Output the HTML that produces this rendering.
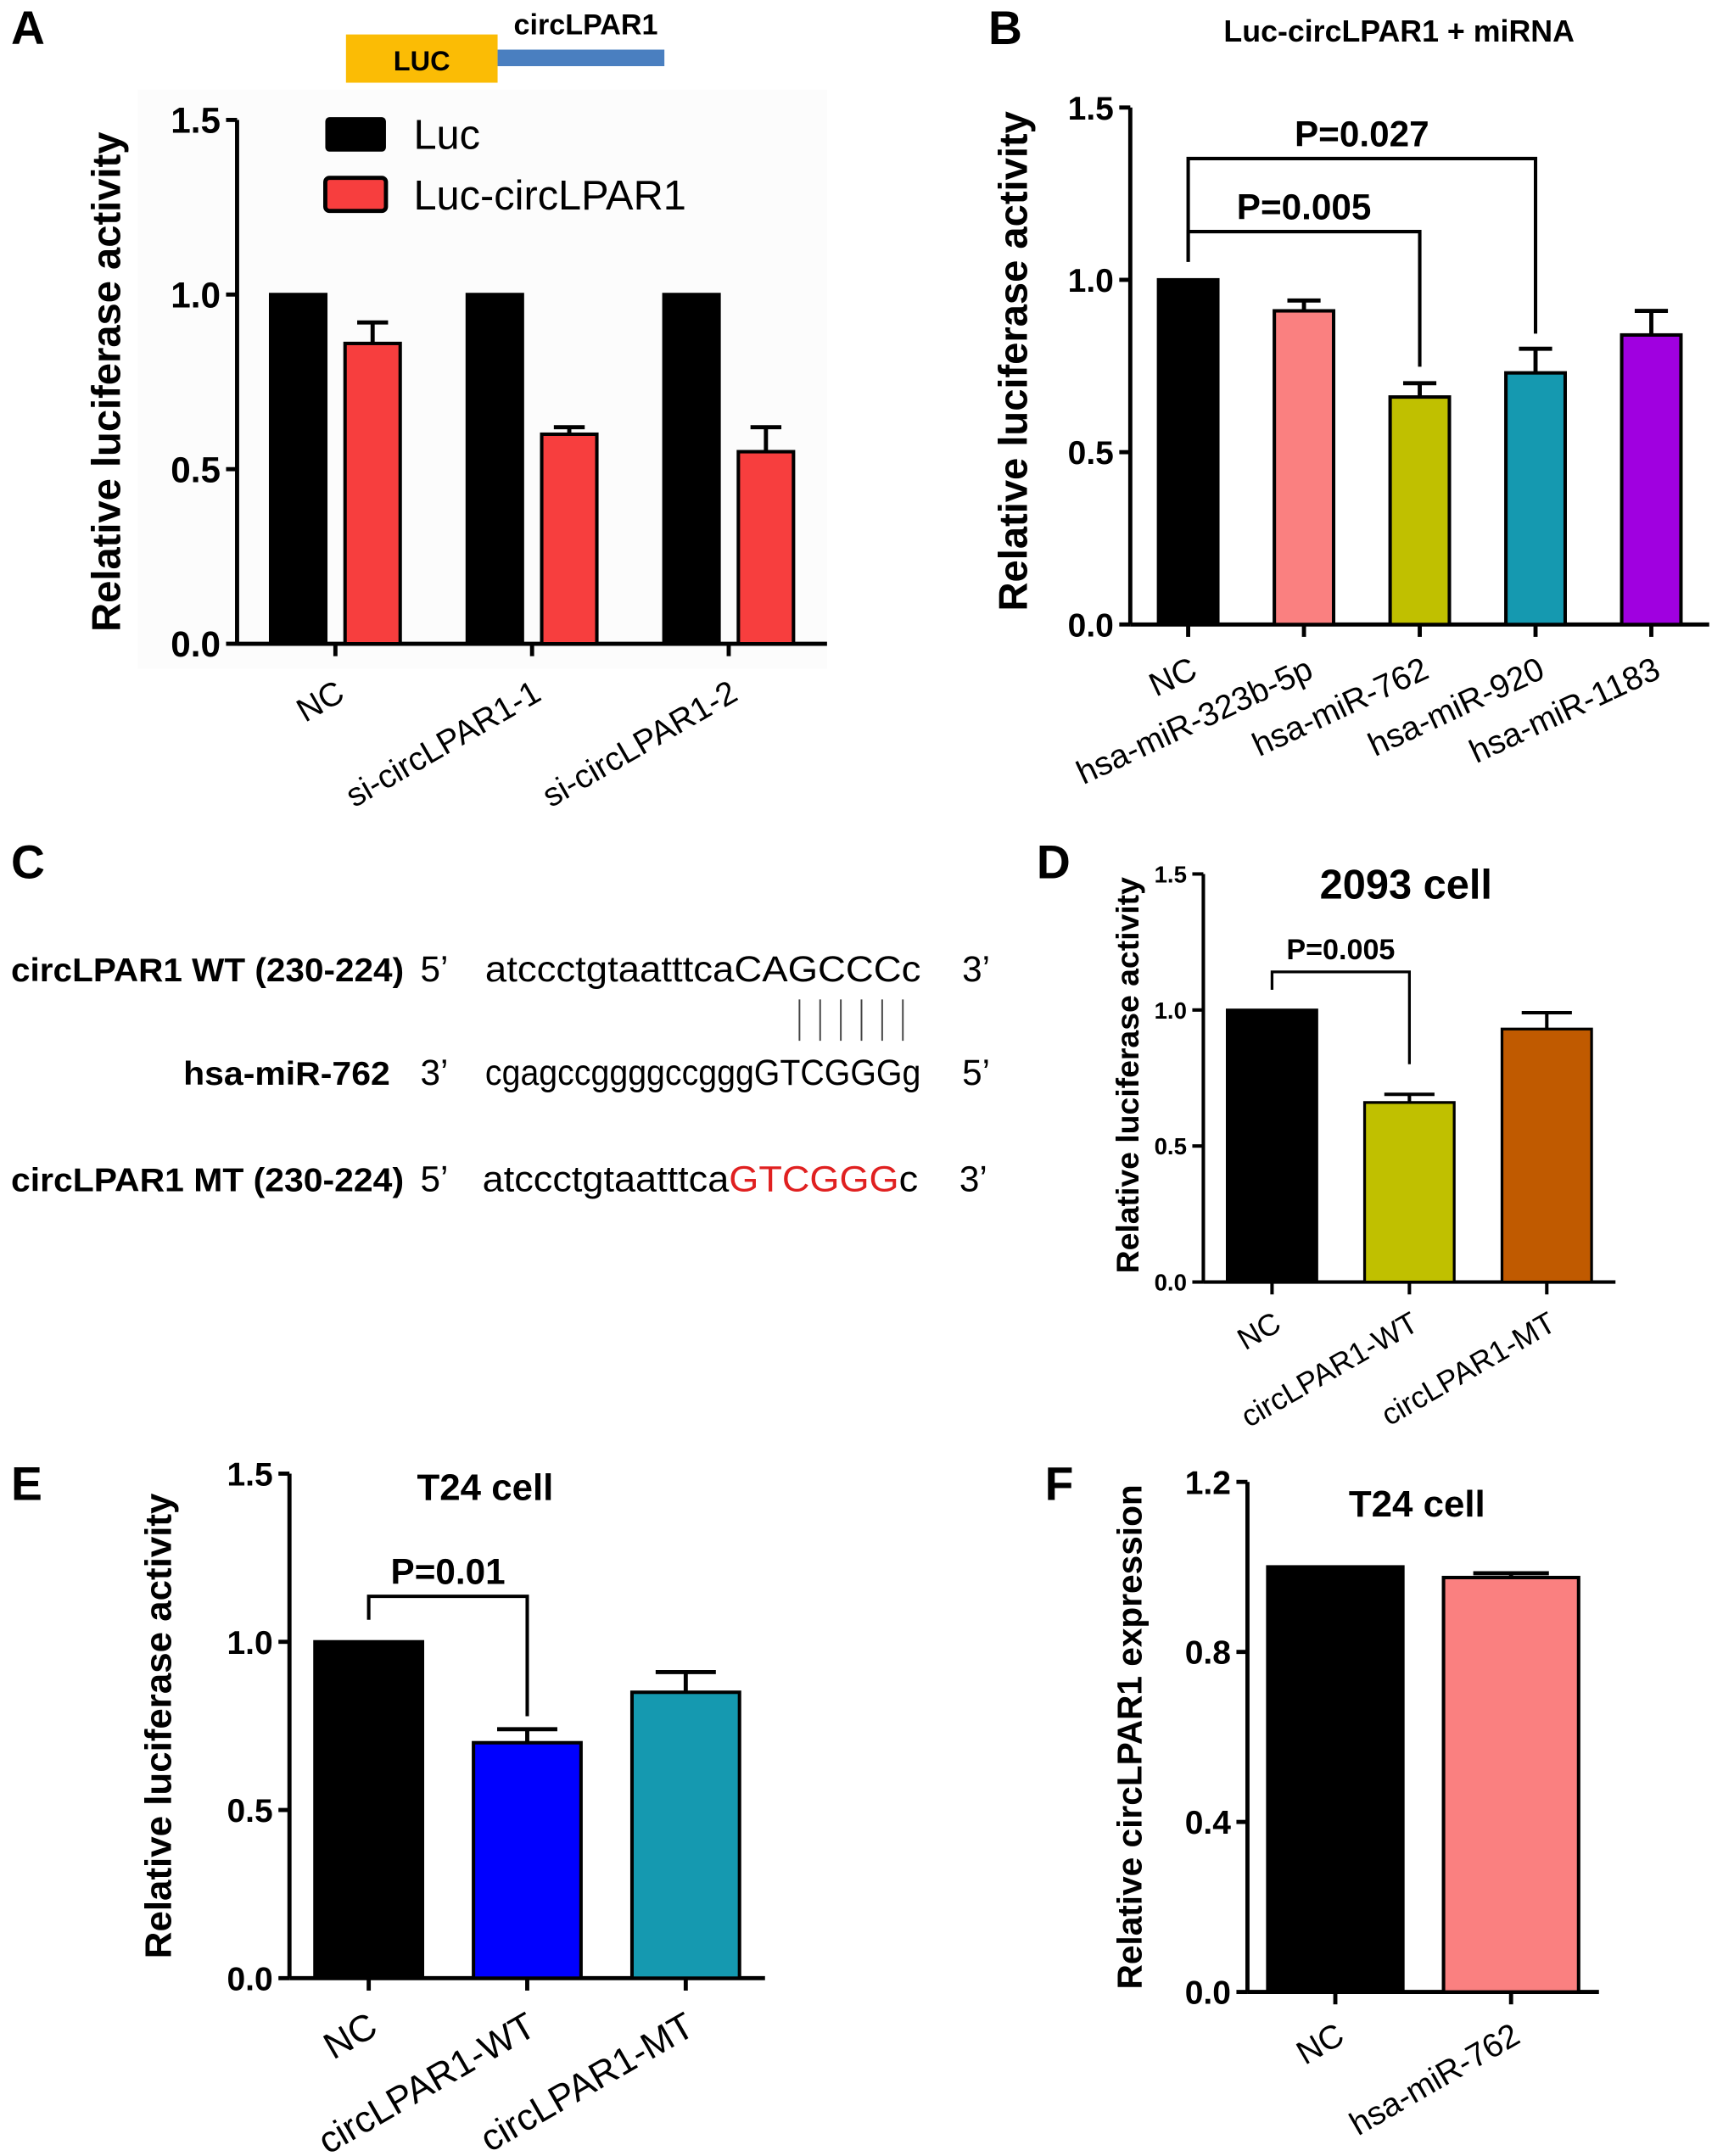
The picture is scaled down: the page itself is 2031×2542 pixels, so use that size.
<!DOCTYPE html>
<html><head><meta charset="utf-8"><style>
html,body{margin:0;padding:0;background:#fff;}
svg{display:block;}
text{font-family:"Liberation Sans",sans-serif;}
</style></head><body>
<svg id="fig" width="2031" height="2542" viewBox="0 0 1250 1564" preserveAspectRatio="none" xmlns="http://www.w3.org/2000/svg">
<rect x="0" y="0" width="1250" height="1564" fill="#fff"/>
<rect x="100" y="65" width="500" height="420" fill="#fcfcfc"/>
<text x="8" y="32" font-size="34" font-weight="bold">A</text>
<rect x="251" y="25" width="110" height="35" fill="#fbbc05"/>
<text x="306" y="51" font-size="20" font-weight="bold" text-anchor="middle">LUC</text>
<rect x="361" y="36" width="121" height="12" fill="#4a7fc0"/>
<text x="425" y="25" font-size="21" font-weight="bold" text-anchor="middle">circLPAR1</text>
<text x="717" y="32" font-size="34" font-weight="bold">B</text>
<text x="1015" y="30" font-size="22" font-weight="bold" text-anchor="middle">Luc-circLPAR1 + miRNA</text>
<text x="8" y="637" font-size="34" font-weight="bold">C</text>
<g>
<text x="293" y="712" font-size="24" font-weight="bold" text-anchor="end" textLength="285" lengthAdjust="spacingAndGlyphs">circLPAR1 WT (230-224)</text>
<text x="305" y="712" font-size="26" font-family="Liberation Serif">5’</text>
<text x="352" y="712" font-size="26" font-family="Liberation Serif" textLength="316" lengthAdjust="spacingAndGlyphs">atccctgtaatttcaCAGCCCc</text>
<text x="698" y="712" font-size="26" font-family="Liberation Serif">3’</text>
<g stroke="#444" stroke-width="1.2">
<line x1="580" y1="725" x2="580" y2="755"/><line x1="595" y1="725" x2="595" y2="755"/><line x1="610" y1="725" x2="610" y2="755"/><line x1="625" y1="725" x2="625" y2="755"/><line x1="640" y1="725" x2="640" y2="755"/><line x1="655" y1="725" x2="655" y2="755"/>
</g>
<text x="283" y="787" font-size="24" font-weight="bold" text-anchor="end" textLength="150" lengthAdjust="spacingAndGlyphs">hsa-miR-762</text>
<text x="305" y="787" font-size="26" font-family="Liberation Serif">3’</text>
<text x="352" y="787" font-size="26" font-family="Liberation Serif" textLength="316" lengthAdjust="spacingAndGlyphs">cgagccggggccgggGTCGGGg</text>
<text x="698" y="787" font-size="26" font-family="Liberation Serif">5’</text>
<text x="293" y="864" font-size="24" font-weight="bold" text-anchor="end" textLength="285" lengthAdjust="spacingAndGlyphs">circLPAR1 MT (230-224)</text>
<text x="305" y="864" font-size="26" font-family="Liberation Serif">5’</text>
<text x="350" y="864" font-size="26" font-family="Liberation Serif" textLength="316" lengthAdjust="spacingAndGlyphs">atccctgtaatttca<tspan fill="#e02020">GTCGGG</tspan>c</text>
<text x="696" y="864" font-size="26" font-family="Liberation Serif">3’</text>
</g>
<text x="752" y="637" font-size="34" font-weight="bold">D</text>
<text x="8" y="1088" font-size="34" font-weight="bold">E</text>
<text x="758" y="1088" font-size="34" font-weight="bold">F</text>
</svg>
<script>
const aCategories = ["NC", "si-circLPAR1-1", "si-circLPAR1-2"];
const aLuc = [1.0, 1.0, 1.0];
const aLucCirc = [0.86, 0.60, 0.55];
const aLucCircErr = [0.06, 0.02, 0.07];
const aTicks = ["0.0", "0.5", "1.0", "1.5"];
const bCategories = ["NC", "hsa-miR-323b-5p", "hsa-miR-762", "hsa-miR-920", "hsa-miR-1183"];
const bValues = [1.0, 0.91, 0.66, 0.73, 0.84];
const bErr = [0, 0.03, 0.04, 0.07, 0.07];
const bTicks = ["0.0", "0.5", "1.0", "1.5"];
const dCategories = ["NC", "circLPAR1-WT", "circLPAR1-MT"];
const dValues = [1.0, 0.66, 0.93];
const dErr = [0, 0.03, 0.06];
const dTicks = ["0.0", "0.5", "1.0", "1.5"];
const eCategories = ["NC", "circLPAR1-WT", "circLPAR1-MT"];
const eValues = [1.0, 0.70, 0.85];
const eErr = [0, 0.04, 0.06];
const eTicks = ["0.0", "0.5", "1.0", "1.5"];
const fCategories = ["NC", "hsa-miR-762"];
const fValues = [1.0, 0.975];
const fErr = [0, 0.01];
const fTicks = ["0.0", "0.4", "0.8", "1.2"];

const NS = "http://www.w3.org/2000/svg";
const svg = document.getElementById('fig');
function mk(tag, attrs, parent, txt) {
  const e = document.createElementNS(NS, tag);
  for (const k in attrs) e.setAttribute(k, attrs[k]);
  if (txt !== undefined) e.textContent = txt;
  (parent || svg).appendChild(e);
  return e;
}

function panel(cfg) {
  const g = mk('g', {});
  
  
  const ymax = parseFloat(cfg.ticks[cfg.ticks.length - 1]);
  const y = v => cfg.y0 - (v / ymax) * (cfg.y0 - cfg.ytop);
  const n = cfg.cats.length;
  const step = (cfg.xEnd - cfg.ax - cfg.pad) / n;
  const cx = i => cfg.ax + cfg.pad / 2 + step * (i + 0.5) + cfg.shift;
  const ya = mk('line', {x1: cfg.ax, y1: cfg.ytop, x2: cfg.ax, y2: cfg.y0, stroke: '#000', 'stroke-width': cfg.sw}, g);
  
  
  cfg.ticks.forEach(t => {
    const yy = y(parseFloat(t));
    mk('line', {x1: cfg.ax - 8, y1: yy, x2: cfg.ax, y2: yy, stroke: '#000', 'stroke-width': cfg.sw}, g);
    const tl = mk('text', {x: cfg.ax - 12, y: yy + cfg.tfs * 0.36, 'font-size': cfg.tfs, 'font-weight': 'bold', 'text-anchor': 'end'}, g, t);
    
    
  });
  const xa = mk('line', {x1: cfg.ax, y1: cfg.y0, x2: cfg.xEnd, y2: cfg.y0, stroke: '#000', 'stroke-width': cfg.sw}, g);
  
  
  const yt = mk('text', {x: 0, y: 0, 'font-size': cfg.yfs, 'font-weight': 'bold', 'text-anchor': 'middle', transform: `translate(${cfg.ytx},${cfg.yty}) rotate(-90)`}, g, cfg.ytitle);
  
  
  cfg.cats.forEach((c, i) => {
    const x = cx(i);
    mk('line', {x1: x, y1: cfg.y0, x2: x, y2: cfg.y0 + 9, stroke: '#000', 'stroke-width': cfg.sw}, g);
    const lx = x + 8, ly = cfg.y0 + cfg.lofs;
    const lab = mk('text', {x: lx, y: ly, 'font-size': cfg.xfs, 'text-anchor': 'end', transform: `rotate(${cfg.rot} ${lx} ${ly})`}, g, c);
    
    
    cfg.series.forEach((s, si) => {
      const bw = cfg.bw;
      const off = cfg.series.length > 1 ? (si === 0 ? -bw / 2 - cfg.gap / 2 : bw / 2 + cfg.gap / 2) : 0;
      const bx = x + off - bw / 2;
      const v = s.vals[i];
      if (s.err && s.err[i] > 0) {
        const top = y(v + s.err[i]);
        mk('line', {x1: x + off, y1: y(v), x2: x + off, y2: top, stroke: '#000', 'stroke-width': cfg.sw}, g);
        mk('line', {x1: x + off - bw * 0.28, y1: top, x2: x + off + bw * 0.28, y2: top, stroke: '#000', 'stroke-width': cfg.sw}, g);
      }
      const r = mk('rect', {x: bx, y: y(v), width: bw, height: cfg.y0 - y(v), fill: s.colors[i], stroke: '#000', 'stroke-width': cfg.sw - 0.5}, g);
      
      
    });
  });
  return {g, y, cx};
}

const pA = panel({name: 'panel-a-chart', ax: 172, y0: 467, ytop: 87, xEnd: 600, pad: 0, shift: 0, ticks: aTicks, cats: aCategories,
  bw: 40, gap: 14, sw: 3, tfs: 26, yfs: 29, ytx: 87, yty: 277, ytitle: 'Relative luciferase activity', xfs: 24, rot: -30, lofs: 40,
  series: [{key: 'luc', vals: aLuc, colors: ['#000', '#000', '#000']}, {key: 'luc-circlpar1', vals: aLucCirc, err: aLucCircErr, colors: ['#f73e3e', '#f73e3e', '#f73e3e']}]});
const legA = mk('g', {});


mk('rect', {x: 236, y: 85, width: 44, height: 25, rx: 3, fill: '#000'}, legA);
mk('text', {x: 300, y: 108, 'font-size': 30}, legA, 'Luc');
mk('rect', {x: 236, y: 129, width: 44, height: 24, rx: 3, fill: '#f73e3e', stroke: '#000', 'stroke-width': 3}, legA);
mk('text', {x: 300, y: 152, 'font-size': 30}, legA, 'Luc-circLPAR1');

const pB = panel({name: 'panel-b-chart', ax: 820, y0: 453, ytop: 78, xEnd: 1240, pad: 0, shift: 0, ticks: bTicks, cats: bCategories,
  bw: 43, gap: 0, sw: 3, tfs: 24, yfs: 29, ytx: 745, yty: 262, ytitle: 'Relative luciferase activity', xfs: 24, rot: -25, lofs: 38,
  series: [{key: 'mirna', vals: bValues, err: bErr, colors: ['#000', '#fa8080', '#c0c000', '#1599b0', '#a000e0']}]});
function bracket(p, i1, i2, ybar, y1end, y2end, label, fs, sw) {
  const bg = mk('g', {});
  
  
  const x1 = p.cx(i1), x2 = p.cx(i2);
  mk('polyline', {points: `${x1},${y1end} ${x1},${ybar} ${x2},${ybar} ${x2},${y2end}`, fill: 'none', stroke: '#000', 'stroke-width': sw}, bg);
  mk('text', {x: (x1 + x2) / 2, y: ybar - 9, 'font-size': fs, 'font-weight': 'bold', 'text-anchor': 'middle'}, bg, label);
}
bracket(pB, 0, 2, 168, 190, 266, 'P=0.005', 26, 2.5);
bracket(pB, 0, 3, 115, 190, 242, 'P=0.027', 26, 2.5);

const pD = panel({name: 'panel-d-chart', ax: 873, y0: 930, ytop: 634, xEnd: 1172, pad: 0, shift: 0, ticks: dTicks, cats: dCategories,
  bw: 65, gap: 0, sw: 2.5, tfs: 17, yfs: 23, ytx: 826, yty: 780, ytitle: 'Relative luciferase activity', xfs: 22, rot: -30, lofs: 34,
  series: [{key: 'construct', vals: dValues, err: dErr, colors: ['#000', '#c0c000', '#c05a00']}]});
mk('text', {x: 1020, y: 652, 'font-size': 30, 'font-weight': 'bold', 'text-anchor': 'middle'}, pD.g, '2093 cell');
bracket(pD, 0, 1, 705, 718, 772, 'P=0.005', 21, 2);

const pE = panel({name: 'panel-e-chart', ax: 210, y0: 1435, ytop: 1069, xEnd: 555, pad: 0, shift: 0, ticks: eTicks, cats: eCategories,
  bw: 78, gap: 0, sw: 3, tfs: 24, yfs: 27, ytx: 124, yty: 1252, ytitle: 'Relative luciferase activity', xfs: 27, rot: -30, lofs: 40,
  series: [{key: 'construct', vals: eValues, err: eErr, colors: ['#000', '#0000ff', '#1599b0']}]});
mk('text', {x: 352, y: 1088, 'font-size': 27, 'font-weight': 'bold', 'text-anchor': 'middle'}, pE.g, 'T24 cell');
bracket(pE, 0, 1, 1158, 1175, 1245, 'P=0.01', 26, 2.5);

const pF = panel({name: 'panel-f-chart', ax: 905, y0: 1445, ytop: 1075, xEnd: 1160, pad: 0, shift: 0, ticks: fTicks, cats: fCategories,
  bw: 98, gap: 0, sw: 3, tfs: 24, yfs: 25, ytx: 828, yty: 1260, ytitle: 'Relative circLPAR1 expression', xfs: 24, rot: -30, lofs: 36,
  series: [{key: 'treatment', vals: fValues, err: fErr, colors: ['#000', '#fa8080']}]});
mk('text', {x: 1028, y: 1100, 'font-size': 27, 'font-weight': 'bold', 'text-anchor': 'middle'}, pF.g, 'T24 cell');
</script>
</body></html>
